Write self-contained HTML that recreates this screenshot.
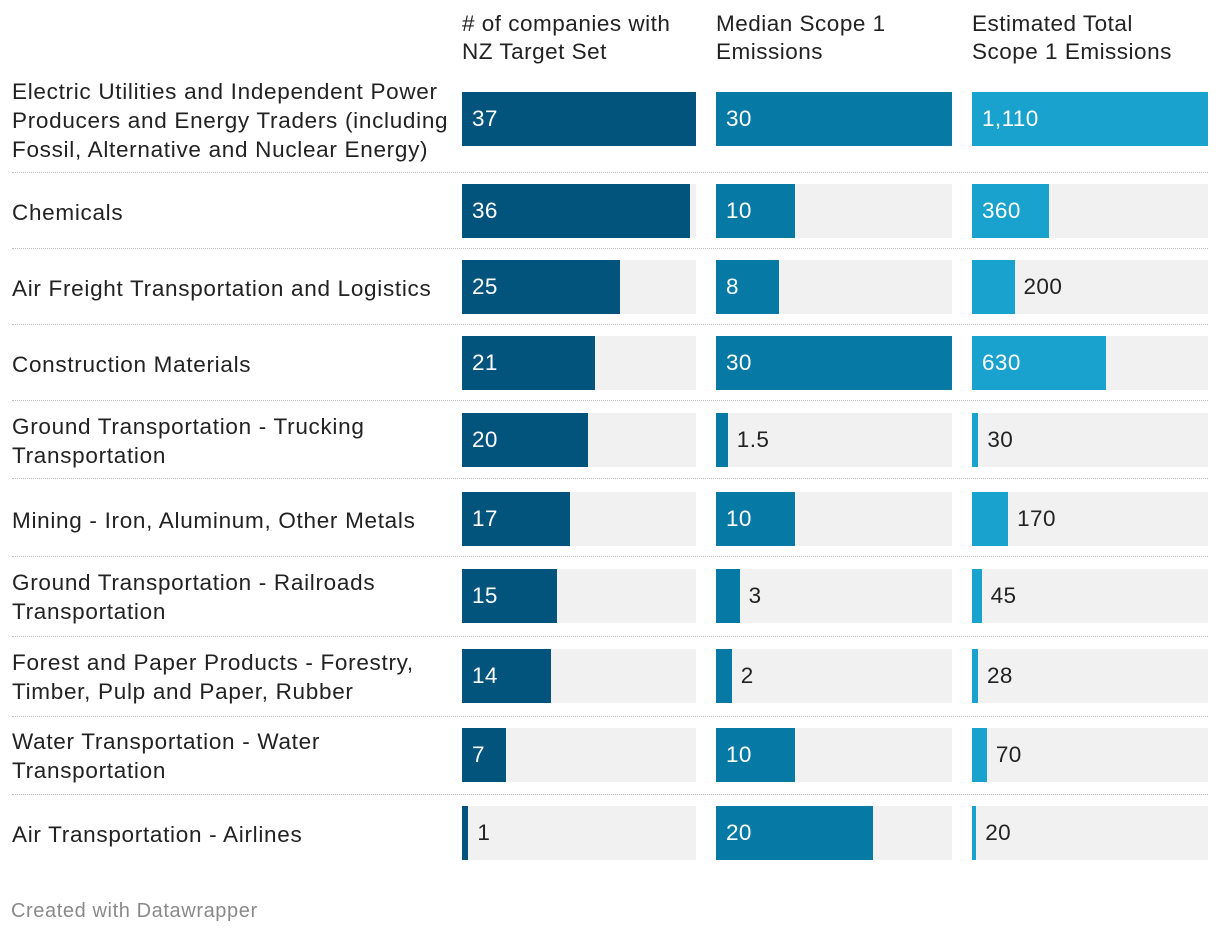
<!DOCTYPE html>
<html><head><meta charset="utf-8">
<style>
body{margin:0;background:#fff;width:1220px;height:938px;overflow:hidden;font-family:"Liberation Sans",sans-serif;color:#222;position:relative}
.h{position:absolute;top:10px;font-size:22.5px;letter-spacing:0.5px;line-height:28px;color:#222}
.lab{position:absolute;left:12px;width:440px;font-size:22.5px;letter-spacing:0.7px;line-height:29px;color:#222;display:flex;align-items:center}
.bg{position:absolute;background:#f1f1f1}
.bar{position:absolute}
.val{position:absolute;font-size:22.5px;letter-spacing:0.4px;line-height:54px}
.sep{position:absolute;left:12px;width:1196px;border-top:1px dotted #bbb}
.foot{position:absolute;left:11px;top:900px;font-size:20px;letter-spacing:0.6px;color:#8a8a8a}
</style></head><body>
<div class="h" style="left:462px"># of companies with<br>NZ Target Set</div>
<div class="h" style="left:716px">Median Scope 1<br>Emissions</div>
<div class="h" style="left:972px">Estimated Total<br>Scope 1 Emissions</div>
<div id="chart"></div>
<div class="foot">Created with Datawrapper</div>
<script>
const categories=["Electric Utilities and Independent Power Producers and Energy Traders (including Fossil, Alternative and Nuclear Energy)","Chemicals","Air Freight Transportation and Logistics","Construction Materials","Ground Transportation - Trucking Transportation","Mining - Iron, Aluminum, Other Metals","Ground Transportation - Railroads Transportation","Forest and Paper Products - Forestry, Timber, Pulp and Paper, Rubber","Water Transportation - Water Transportation","Air Transportation - Airlines"];
const companies=[37,36,25,21,20,17,15,14,7,1];
const medianScope1=[30,10,8,30,1.5,10,3,2,10,20];
const totalScope1=[1110,360,200,630,30,170,45,28,70,20];
const companiesLabels=["37","36","25","21","20","17","15","14","7","1"];
const medianLabels=["30","10","8","30","1.5","10","3","2","10","20"];
const totalLabels=["1,110","360","200","630","30","170","45","28","70","20"];
const rowTops=[92,184,260,336,413,492,569,649,728,806];
const sepYs=[172,248,324,400,478,556,636,716,794];
const cols=[{x:462,w:234,vals:companies,labs:companiesLabels,color:"#03547c",name:"companies"},
{x:716,w:236,vals:medianScope1,labs:medianLabels,color:"#0679a4",name:"median"},
{x:972,w:236,vals:totalScope1,labs:totalLabels,color:"#19a2ce",name:"total"}];
const root=document.getElementById('chart');
function mk(cls,style){const d=document.createElement('div');d.className=cls;Object.assign(d.style,style);root.appendChild(d);return d;}
const H=54;
categories.forEach((c,i)=>{
  const y=rowTops[i];
  const l=mk('lab',{top:(y-19)+'px',height:(H+40)+'px'});l.textContent=c;
  
  
  cols.forEach(col=>{
    const max=Math.max(...col.vals);
    const w=Math.max(4,col.vals[i]/max*col.w);
    const bg=mk('bg',{left:col.x+'px',top:y+'px',width:col.w+'px',height:H+'px'});
    
    
    const b=mk('bar',{left:col.x+'px',top:y+'px',width:w+'px',height:H+'px',background:col.color});
    
    
    const t=col.labs[i];
    const tw=t.length*13+16;
    const inside=w>=tw;
    const v=mk('val',{top:y+'px',left:(inside?col.x+10:col.x+w+9)+'px',color:inside?'#fff':'#222'});
    v.textContent=t;
    
    
  });
});
sepYs.forEach(y=>{const s=mk('sep',{top:y+'px'});

});
</script>
</body></html>
